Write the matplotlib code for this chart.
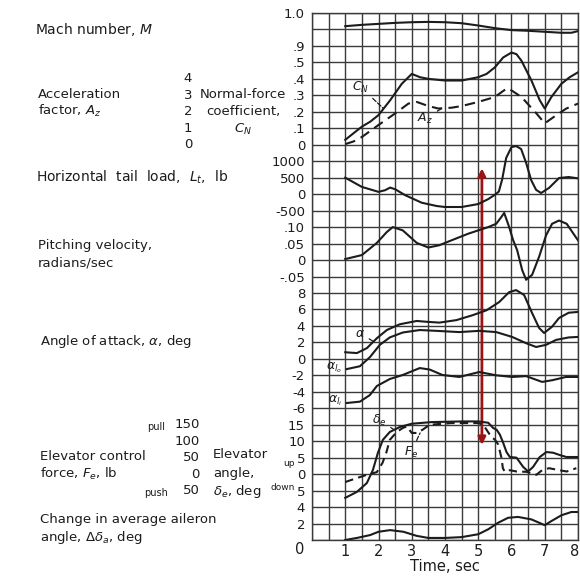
import matplotlib
matplotlib.use("Agg")
import matplotlib.pyplot as plt
import matplotlib.transforms as mtransforms
import numpy as np

# ---------------- data (time in sec) ----------------
mach_t = [1.0, 1.5, 2.0, 2.5, 3.0, 3.5, 4.0, 4.5, 5.0, 5.5, 6.0, 6.5, 7.0, 7.5, 7.8, 8.0]
mach = [0.960, 0.964, 0.967, 0.970, 0.972, 0.973, 0.972, 0.969, 0.962, 0.954, 0.948, 0.946, 0.943, 0.940, 0.940, 0.945]

cn_t = [1.0, 1.25, 1.5, 1.75, 2.0, 2.35, 2.7, 3.0, 3.25, 3.5, 4.0, 4.5, 5.0, 5.25, 5.5, 5.75,
        6.0, 6.15, 6.3, 6.6, 6.85, 7.0, 7.2, 7.5, 7.75, 8.0]
cn = [0.03, 0.07, 0.11, 0.14, 0.18, 0.27, 0.37, 0.43, 0.41, 0.40, 0.39, 0.39, 0.41, 0.43, 0.47, 0.53,
      0.56, 0.55, 0.51, 0.39, 0.27, 0.22, 0.29, 0.37, 0.41, 0.44]

az_t = [1.0, 1.25, 1.5, 2.0, 2.5, 2.9, 3.15, 3.5, 3.8, 4.2, 4.5, 5.0, 5.5, 5.87, 6.0, 6.3,
        6.75, 7.0, 7.35, 7.65, 8.0]
az = [0.04, 0.2, 0.47, 1.2, 1.9, 2.5, 2.6, 2.35, 2.2, 2.25, 2.35, 2.6, 2.9, 3.44, 3.3, 2.9,
      1.9, 1.3, 1.8, 2.2, 2.5]

tl_t = [1.0, 1.5, 2.0, 2.2, 2.35, 2.5, 2.8, 3.3, 3.75, 4.0, 4.5, 5.0, 5.3, 5.5, 5.62, 5.72,
        5.84, 6.0, 6.14, 6.29, 6.44, 6.59, 6.74, 6.89, 7.13, 7.43, 7.72, 8.0]
tail_load = [500, 220, 70, 120, 200, 150, -30, -260, -360, -390, -390, -300, -150, -20, 80, 450,
             1100, 1430, 1460, 1370, 950, 430, 130, 35, 190, 490, 520, 480]

pv_t = [1.0, 1.5, 1.95, 2.25, 2.43, 2.73, 3.15, 3.5, 3.83, 4.2, 4.7, 5.0, 5.3, 5.54, 5.69, 5.78,
        5.93, 6.05, 6.17, 6.32, 6.44, 6.62, 6.83, 7.04, 7.22, 7.43, 7.66, 7.93, 8.0]
pitch_vel = [0.003, 0.015, 0.052, 0.085, 0.10, 0.09, 0.052, 0.038, 0.045, 0.06, 0.08, 0.09, 0.10,
             0.11, 0.13, 0.143, 0.10, 0.06, 0.03, -0.03, -0.06, -0.045, 0.01, 0.075, 0.11, 0.12,
             0.11, 0.07, 0.06]

a_t = [1.0, 1.35, 1.65, 1.95, 2.25, 2.64, 3.15, 3.45, 3.83, 4.34, 4.83, 5.25, 5.63, 5.93, 6.14,
       6.38, 6.62, 6.83, 6.98, 7.22, 7.43, 7.72, 8.0]
alpha = [0.8, 0.7, 1.3, 2.5, 3.5, 4.2, 4.6, 4.5, 4.4, 4.7, 5.3, 5.9, 6.9, 8.1, 8.35,
         7.75, 5.56, 3.75, 3.14, 3.9, 4.96, 5.6, 5.7]

alo_t = [1.05, 1.44, 1.74, 2.04, 2.34, 2.73, 3.24, 3.74, 4.43, 5.03, 5.54, 6.02, 6.44, 6.74,
         7.04, 7.34, 7.72, 8.0]
alpha_lo = [-1.24, -0.9, 0.2, 1.7, 2.6, 3.2, 3.5, 3.4, 3.25, 3.4, 3.25, 2.66, 1.9, 1.44,
            1.7, 2.3, 2.6, 2.66]

ali_t = [1.05, 1.44, 1.74, 1.95, 2.34, 2.73, 3.24, 3.54, 3.92, 4.43, 5.03, 5.54, 6.02, 6.44,
         6.92, 7.22, 7.64, 8.0]
alpha_li = [-5.36, -5.2, -4.4, -3.3, -2.45, -1.96, -1.12, -1.3, -1.96, -2.2, -1.6, -2.0, -2.2,
            -2.1, -2.8, -2.6, -2.2, -2.2]

de_t = [1.0, 1.35, 1.65, 1.83, 1.98, 2.13, 2.34, 2.64, 3.0, 3.6, 4.5, 5.0, 5.3, 5.45, 5.55,
        5.65, 5.75, 5.85, 5.95, 6.15, 6.35, 6.5, 6.65, 6.85, 7.05, 7.25, 7.45, 7.65, 8.0]
delta_e = [-7.2, -5.4, -2.7, 1.2, 6.4, 10.4, 12.8, 14.3, 15.3, 15.8, 16.0, 16.0, 15.6, 14.0,
           13.5, 12.0, 9.5, 6.7, 5.2, 5.0, 2.2, 0.8, 2.2, 5.2, 6.7, 6.5, 5.8, 5.2, 5.2]

fe_t = [1.0, 1.35, 1.65, 1.95, 2.12, 2.24, 2.34, 2.55, 2.73, 2.85, 3.0, 3.15, 3.33, 3.54, 4.2,
        5.0, 5.15, 5.28, 5.4, 5.5, 5.6, 5.7, 5.74, 5.8, 5.95, 6.15, 6.45, 6.75, 6.92, 7.13,
        7.43, 7.66, 7.95]
force_e = [-24, -12, -2, 6, 34, 67, 104, 128, 140, 145, 125, 125, 135, 150, 155,
           155, 150, 130, 112, 105, 90, 49, 18, 7, 12, 8, 7, -2, 12, 18,
           12, 8, 18]

ail_t = [1.0, 1.35, 1.75, 2.0, 2.35, 2.75, 3.15, 3.5, 4.0, 4.5, 5.0, 5.3, 5.6, 5.9, 6.2, 6.6,
         7.0, 7.2, 7.5, 7.8, 8.0]
aileron = [0.0, 0.25, 0.6, 1.0, 1.2, 1.0, 0.5, 0.25, 0.25, 0.35, 0.7, 1.3, 2.1, 2.7, 2.8, 2.5,
           1.8, 2.3, 3.0, 3.4, 3.4]

time_ticks = [1, 2, 3, 4, 5, 6, 7, 8]

# ---------------- layout ----------------
W, H = 580, 584
fig = plt.figure(figsize=(W / 100, H / 100), dpi=100)
fig.patch.set_facecolor("white")
L, R, T, B = 312, 578, 13, 540
pos = [L / W, 1 - B / H, (R - L) / W, (B - T) / H]
NROWS = 32
INK = "#1c1c1c"
GRID = "#3a3a3a"
FS = 9.5

ax0 = fig.add_axes(pos)
ax0.set_xlim(0, 8)
ax0.set_ylim(0, NROWS)
ax0.set_xticks(np.arange(0, 8.01, 0.5), minor=True)
ax0.set_yticks(np.arange(0, NROWS + 1), minor=True)
ax0.set_xticks(time_ticks)
ax0.set_xticklabels([str(v) for v in time_ticks], fontsize=10.5, color=INK)
ax0.set_yticks([])
ax0.tick_params(which="both", length=0, pad=3)
ax0.grid(which="both", color=GRID, lw=1.0)
for s in ax0.spines.values():
    s.set_color(GRID)
    s.set_linewidth(1.0)
ax0.set_xlabel("Time, sec", fontsize=10.5, color=INK, labelpad=0)
# keep the last time label inside the picture
last = ax0.get_xticklabels()[-1]
last.set_transform(last.get_transform() + mtransforms.ScaledTranslation(-3 / 100, 0, fig.dpi_scale_trans))


def overlay(lo, per_row, ticks=None, labels=None):
    ax = fig.add_axes(pos)
    ax.set_xlim(0, 8)
    ax.set_ylim(lo, lo + per_row * NROWS)
    ax.patch.set_visible(False)
    for s in ax.spines.values():
        s.set_visible(False)
    ax.set_xticks([])
    if ticks is None:
        ax.set_yticks([])
    else:
        ax.set_yticks(ticks)
        ax.set_yticklabels(labels, fontsize=FS, color=INK)
        ax.tick_params(axis="y", length=0, pad=5)
    return ax


ax_m = overlay(-0.6, 0.05, [0.9, 1.0], [".9", "1.0"])
ax_cn = overlay(-2.4, 0.1, [0, 0.1, 0.2, 0.3, 0.4, 0.5], ["0", ".1", ".2", ".3", ".4", ".5"])
ax_az = overlay(-24, 1)
ax_tl = overlay(-10500, 500, [-500, 0, 500, 1000], ["-500", "0", "500", "1000"])
ax_pv = overlay(-0.85, 0.05, [-0.05, 0, 0.05, 0.10], ["-.05", "0", ".05", ".10"])
ax_a = overlay(-22, 2, [-6, -4, -2, 0, 2, 4, 6, 8], ["-6", "-4", "-2", "0", "2", "4", "6", "8"])
ax_de = overlay(-20, 5, [-5, 0, 5, 10, 15], ["5", "0", "5", "10", "15"])
ax_fe = overlay(-200, 50)
ax_ail = overlay(0, 2, [2, 4], ["2", "4"])

lw = 1.5
ax_m.plot(mach_t, mach, color=INK, lw=lw)
ax_cn.plot(cn_t, cn, color=INK, lw=lw)
ax_az.plot(az_t, az, color=INK, lw=lw, dashes=(5, 3))
ax_tl.plot(tl_t, tail_load, color=INK, lw=lw)
ax_pv.plot(pv_t, pitch_vel, color=INK, lw=lw)
ax_a.plot(a_t, alpha, color=INK, lw=lw)
ax_a.plot(alo_t, alpha_lo, color=INK, lw=lw)
ax_a.plot(ali_t, alpha_li, color=INK, lw=lw)
ax_de.plot(de_t, delta_e, color=INK, lw=lw)
ax_fe.plot(fe_t, force_e, color=INK, lw=lw, dashes=(4, 2.5))
ax_ail.plot(ail_t, aileron, color=INK, lw=lw)

# curve labels
def tag(ax, txt, xy, xyt, dashed=True, fs=9):
    ax.annotate(txt, xy=xy, xytext=xyt, fontsize=fs, color=INK, ha="right", va="center",
                arrowprops=dict(arrowstyle="-", color=INK, lw=0.9,
                                linestyle="--" if dashed else "-", shrinkA=1, shrinkB=0))

tag(ax_cn, "$C_N$", (2.15, 0.22), (1.72, 0.35))
tag(ax_az, "$A_z$", (3.9, 2.2), (3.65, 1.6))
tag(ax_a, r"$\alpha$", (1.85, 2.1), (1.6, 3.1))
tag(ax_a, r"$\alpha_{l_o}$", (1.05, -1.24), (0.9, -1.1))
tag(ax_a, r"$\alpha_{l_i}$", (1.05, -5.36), (0.92, -5.1))
tag(ax_de, r"$\delta_e$", (2.45, 13.6), (2.25, 16.4))
tag(ax_fe, "$F_e$", (3.25, 125), (3.2, 67))

# arrow
ax0.annotate("", xy=(5.11, 22.57), xytext=(5.11, 5.77),
             arrowprops=dict(arrowstyle="<|-|>", color="#9a1414", lw=2.0,
                             mutation_scale=11, shrinkA=0, shrinkB=0))

# left-side texts
def ftxt(x, y, s, ha="left", fs=FS, **kw):
    fig.text(x / W, 1 - y / H, s, ha=ha, va="center", fontsize=fs, color=INK, **kw)

ftxt(35, 30, "Mach number, $M$", fs=10)
ftxt(38, 94, "Acceleration")
ftxt(38, 111, "factor, $A_z$")
ftxt(243, 94, "Normal-force", ha="center")
ftxt(243, 111, "coefficient,", ha="center")
ftxt(243, 129, "$C_N$", ha="center")
ftxt(36, 177, "Horizontal  tail  load,  $L_t$,  lb", fs=10)
ftxt(38, 246, "Pitching velocity,")
ftxt(38, 263, "radians/sec")
ftxt(40, 342, r"Angle of attack, $\alpha$, deg")
ftxt(40, 456, "Elevator control")
ftxt(40, 474, "force, $F_e$, lb")
ftxt(213, 455, "Elevator")
ftxt(213, 473, "angle,")
ftxt(213, 491, r"$\delta_e$, deg")
ftxt(295, 463, "up", ha="right", fs=6.5)
ftxt(295, 487, "down", ha="right", fs=6.5)
ftxt(40, 520, "Change in average aileron")
ftxt(40, 538, r"angle, $\Delta\delta_a$, deg")
ftxt(165, 427, "pull", ha="right", fs=7)
ftxt(168, 493, "push", ha="right", fs=7)
ftxt(300, 550, "0", ha="center", fs=10.5)

# Az scale labels and Fe scale labels
tr_az = mtransforms.blended_transform_factory(fig.transFigure, ax_az.transData)
for v in [0, 1, 2, 3, 4]:
    fig.text(188 / W, v, str(v), transform=tr_az, ha="center", va="center", fontsize=FS, color=INK)
tr_fe = mtransforms.blended_transform_factory(fig.transFigure, ax_fe.transData)
for v, s in zip([150, 100, 50, 0, -50], ["150", "100", "50", "0", "50"]):
    fig.text(200 / W, v, s, transform=tr_fe, ha="right", va="center", fontsize=FS, color=INK)

fig.savefig("out.png", dpi=100)
